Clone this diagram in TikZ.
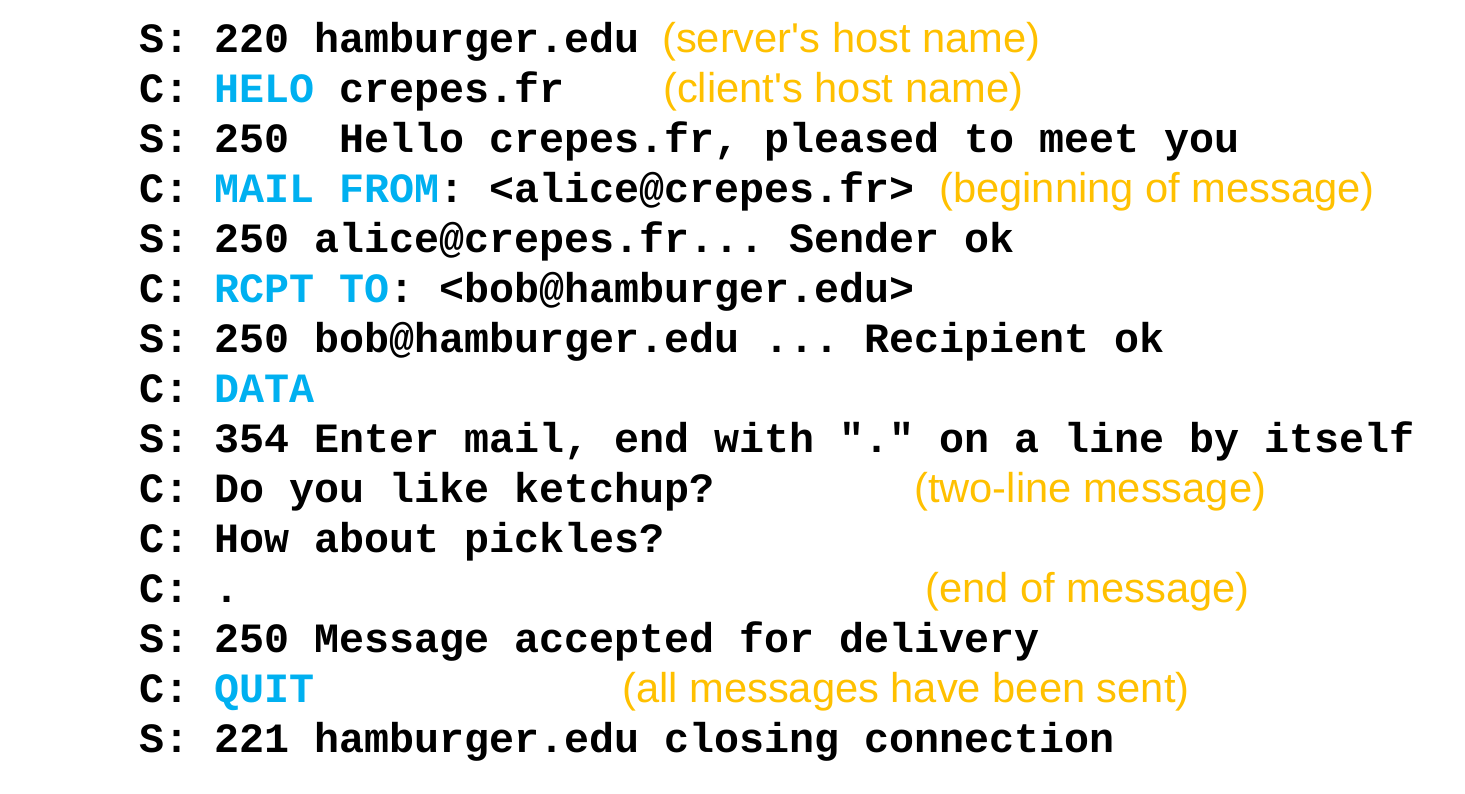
\documentclass[tikz,border=0pt]{standalone}
\usepackage{fontspec}
\setmainfont{Liberation Sans}
\setmonofont{Liberation Mono}
\definecolor{cmdblue}{HTML}{00B0F0}
\definecolor{annorange}{HTML}{FFC000}
\tikzset{
  codeline/.style={anchor=base west, inner sep=0pt, font=\fontsize{41.67pt}{50pt}\selectfont\ttfamily\bfseries, text=black},
  annot/.style={anchor=base west, inner sep=0pt, font=\fontsize{41.67pt}{50pt}\selectfont\rmfamily, text=annorange}
}
\newcommand{\cmdc}[1]{\textcolor{cmdblue}{#1}}
\begin{document}
\begin{tikzpicture}[x=1pt,y=-1pt]
\useasboundingbox (0,0) rectangle (1465,793);
\node[codeline] (l1)  at (139,52)  {S: 220 hamburger.edu};
\node[codeline] (l2)  at (139,102) {C: \cmdc{HELO} crepes.fr};
\node[codeline] (l3)  at (139,152) {S: 250\ \ Hello crepes.fr, pleased to meet you};
\node[codeline] (l4)  at (139,202) {C: \cmdc{MAIL FROM}: <alice@crepes.fr>};
\node[codeline] (l5)  at (139,252) {S: 250 alice@crepes.fr... Sender ok};
\node[codeline] (l6)  at (139,302) {C: \cmdc{RCPT TO}: <bob@hamburger.edu>};
\node[codeline] (l7)  at (139,352) {S: 250 bob@hamburger.edu ... Recipient ok};
\node[codeline] (l8)  at (139,402) {C: \cmdc{DATA}};
\node[codeline] (l9)  at (139,452) {S: 354 Enter mail, end with "." on a line by itself};
\node[codeline] (l10) at (139,502) {C: Do you like ketchup?};
\node[codeline] (l11) at (139,552) {C: How about pickles?};
\node[codeline] (l12) at (139,602) {C: .};
\node[codeline] (l13) at (139,652) {S: 250 Message accepted for delivery};
\node[codeline] (l14) at (139,702) {C: \cmdc{QUIT}};
\node[codeline] (l15) at (139,752) {S: 221 hamburger.edu closing connection};
\node[annot] (a1)  at (662,52)  {(server\textquotesingle s host name)};
\node[annot] (a2)  at (663,102) {(client\textquotesingle s host name)};
\node[annot] (a4)  at (939,202) {(beginning of message)};
\node[annot] (a10) at (914,502) {(two-line message)};
\node[annot] (a12) at (925,602) {(end of message)};
\node[annot] (a14) at (622,702) {(all messages have been sent)};
\end{tikzpicture}
\end{document}
